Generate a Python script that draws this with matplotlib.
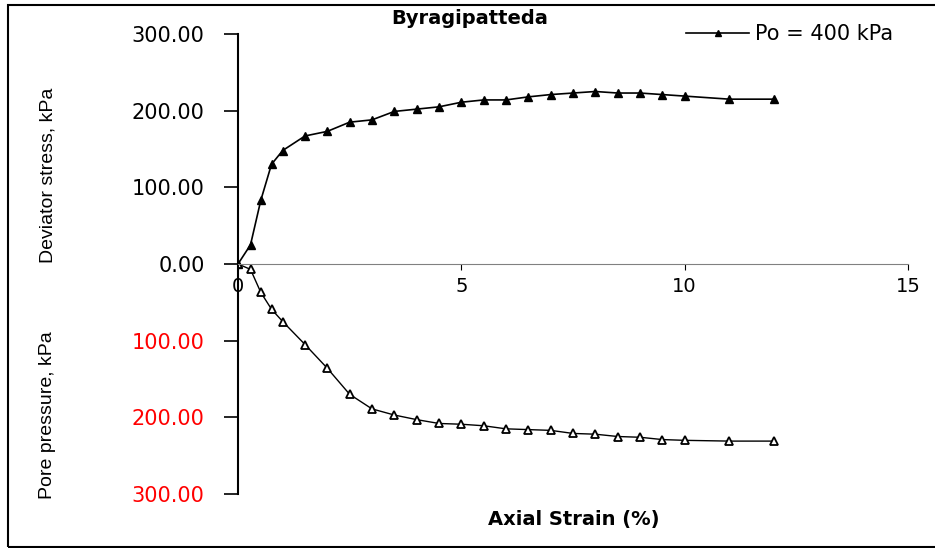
import matplotlib.pyplot as plt
from matplotlib.patches import Rectangle

# axial strain (%) readings
strain = [0, 0.28, 0.51, 0.75, 1.0, 1.5, 2.0, 2.5, 3.0, 3.5, 4.0, 4.5, 5.0,
          5.5, 6.0, 6.5, 7.0, 7.5, 8.0, 8.5, 9.0, 9.5, 10.0, 11.0, 12.0]
# deviator stress, kPa
deviator = [0, 25, 83, 130, 148, 167, 173, 185, 188, 199, 202, 205, 211,
            214, 214, 218, 221, 223, 225, 223, 223, 221, 219, 215, 215]
# pore pressure, kPa (plotted downwards)
pore = [0, 7, 37, 59, 75, 105, 136, 170, 189, 197, 203, 208, 209,
        211, 215, 216, 217, 221, 222, 225, 226, 229, 230, 231, 231]

yticks = [300, 200, 100, 0, -100, -200, -300]

plt.rcParams['font.family'] = ['DejaVu Sans']

fig = plt.figure(figsize=(9.35, 5.48), dpi=100)
ax = fig.add_axes([238 / 935, 54 / 548, 670 / 935, 460 / 548])

ax.plot(strain, deviator, color='black', lw=1.2, marker='^', ms=6,
        mfc='black', mec='black', label='Po = 400 kPa')
ax.plot(strain, [-p for p in pore], color='black', lw=1.0, marker='^', ms=6,
        mfc='white', mec='black', mew=1.3)

ax.set_xlim(0, 15)
ax.set_ylim(-300, 300)

# axes through the origin
ax.spines['top'].set_visible(False)
ax.spines['right'].set_visible(False)
ax.spines['bottom'].set_position(('data', 0))
ax.spines['bottom'].set_color('#808080')
ax.spines['left'].set_linewidth(1.5)

ax.set_xticks([0, 5, 10, 15])
ax.set_xticklabels(['0', '5', '10', '15'])
ax.tick_params(axis='x', direction='out', length=4, labelsize=14, pad=5)

ax.set_yticks(yticks)
ax.set_yticklabels(['%.2f' % abs(v) for v in yticks])
ax.tick_params(axis='y', direction='out', length=10, width=1.2,
               labelsize=15, pad=14)
for lab, v in zip(ax.get_yticklabels(), yticks):
    lab.set_color('red' if v < 0 else 'black')

fig.text(48 / 935, 1 - 175 / 548, 'Deviator stress, kPa', rotation=90,
         ha='center', va='center', fontsize=14, family='Liberation Sans')
fig.text(48 / 935, 1 - 415 / 548, 'Pore pressure, kPa', rotation=90,
         ha='center', va='center', fontsize=14, family='Liberation Sans')
fig.text(470 / 935, 1 - 18 / 548, 'Byragipatteda', ha='center', va='center',
         fontsize=14, fontweight='bold')
fig.text(574 / 935, 1 - 520 / 548, 'Axial Strain (%)', ha='center',
         va='center', fontsize=14, fontweight='bold')

ax.legend(loc='upper left', bbox_to_anchor=(676 / 935, 1 - 14 / 548),
          bbox_transform=fig.transFigure, frameon=False, fontsize=15,
          markerscale=0.7, handlelength=3.0, borderpad=0, handletextpad=0.3)

# outer chart border
fig.patches.append(Rectangle((8 / 935, 1 / 548), 1.0, 542 / 548,
                             transform=fig.transFigure, fill=False,
                             edgecolor='black', lw=1.5))

fig.savefig('out.png', dpi=100)
